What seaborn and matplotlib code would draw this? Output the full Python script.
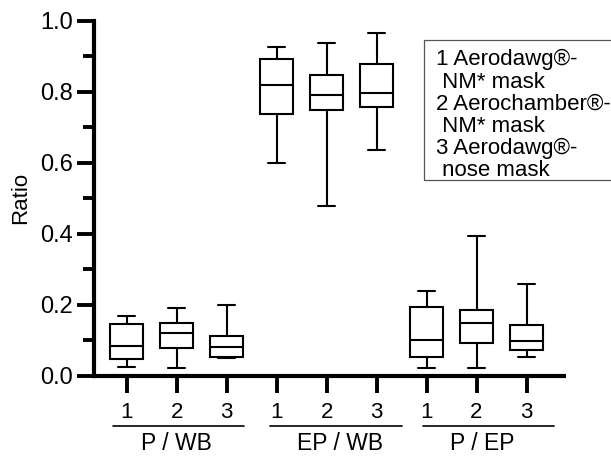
import numpy as np
import pandas as pd
import matplotlib
matplotlib.use("Agg")
import matplotlib.pyplot as plt
import matplotlib.transforms as mtransforms
from matplotlib.patches import Rectangle
import seaborn as sns

# five-number summaries: min, Q1, median, Q3, max
ratios = ["P / WB", "EP / WB", "P / EP"]
devices = ["1", "2", "3"]
p_wb = [[0.025, 0.048, 0.083, 0.145, 0.167],
        [0.023, 0.077, 0.120, 0.148, 0.190],
        [0.049, 0.054, 0.082, 0.111, 0.199]]
ep_wb = [[0.598, 0.736, 0.820, 0.893, 0.925],
         [0.479, 0.749, 0.792, 0.848, 0.937],
         [0.637, 0.758, 0.795, 0.878, 0.966]]
p_ep = [[0.023, 0.054, 0.101, 0.194, 0.239],
        [0.023, 0.092, 0.149, 0.186, 0.394],
        [0.053, 0.071, 0.098, 0.144, 0.259]]
legend_lines = ["1 Aerodawg®-", " NM* mask",
                "2 Aerochamber®-", " NM* mask",
                "3 Aerodawg®-", " nose mask"]

rows = []
slot = 0
for name, group in zip(ratios, [p_wb, ep_wb, p_ep]):
    for dev, summary in zip(devices, group):
        for v in summary:
            rows.append({"slot": slot, "ratio": name, "device": dev, "value": v})
        slot += 1
df = pd.DataFrame(rows)

sns.set_style("ticks")
plt.rcParams["font.family"] = ["Liberation Sans", "DejaVu Sans"]
plt.rcParams["text.color"] = "black"
plt.rcParams["axes.labelcolor"] = "black"
plt.rcParams["xtick.color"] = "black"
plt.rcParams["ytick.color"] = "black"

fig = plt.figure(figsize=(6.11, 4.57), dpi=100)
ax = fig.add_axes([0.1539, 0.1779, 0.7692, 0.7768])

sns.boxplot(data=df, x="slot", y="value", order=list(range(9)), ax=ax,
            width=0.66, whis=(0, 100), color="white", linecolor="black",
            linewidth=1.5, saturation=1)

ax.set_xlim(-0.654, 8.75)
ax.set_ylim(0, 1.0)
ax.set_yticks(np.arange(0, 1.01, 0.2))
ax.set_yticklabels([f"{v:.1f}" for v in np.arange(0, 1.01, 0.2)])
ax.set_yticks(np.arange(0.1, 1.0, 0.2), minor=True)
ax.set_xticks(range(9))
ax.set_xticklabels(devices * 3)
ax.set_xlabel("")
ax.set_ylabel("Ratio", fontsize=16, labelpad=6, color="black")

sns.despine(ax=ax)
for s in ["left", "bottom"]:
    ax.spines[s].set_linewidth(3)
    ax.spines[s].set_color("black")
ax.tick_params(axis="y", which="major", length=12.5, width=2.8, labelsize=17,
               pad=3, color="black", labelcolor="black")
ax.tick_params(axis="y", which="minor", length=8, width=2.8, color="black")
ax.tick_params(axis="x", which="major", length=12, width=2.8, labelsize=16,
               pad=7, color="black", labelcolor="black")

# group brackets under the tick labels
trans = mtransforms.blended_transform_factory(ax.transData, ax.transAxes)
brackets = [(-0.28, 2.35), (2.87, 5.50), (5.92, 8.55)]
label_x = [1.0, 4.27, 7.12]
for (x0, x1), lx, name in zip(brackets, label_x, ratios):
    ax.plot([x0, x1], [-0.143, -0.143], color="black", lw=1.2,
            transform=trans, clip_on=False)
    ax.text(lx, -0.19, name, transform=trans, ha="center", va="center",
            fontsize=16.5, color="black")

# key box at upper right
fig.patches.append(Rectangle((0.694, 0.606), 0.4, 0.3065, transform=fig.transFigure,
                             fill=False, edgecolor="#555555", lw=0.9))
fig.text(0.7136, 0.892, "\n".join(legend_lines), ha="left", va="top",
         fontsize=16, linespacing=1.07, color="black")

fig.savefig("out.png", dpi=100)
